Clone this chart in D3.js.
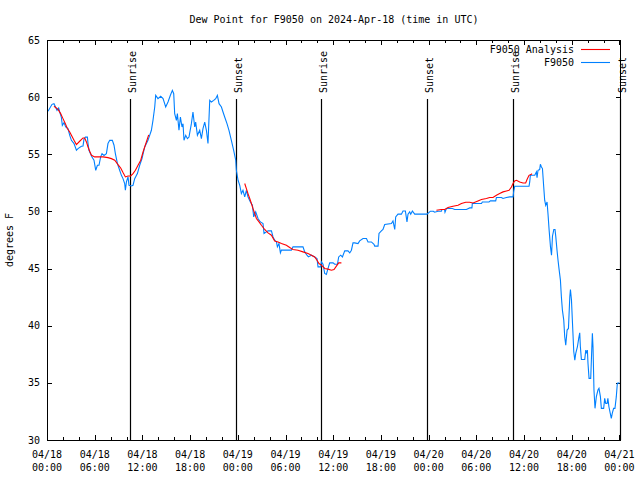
<!DOCTYPE html>
<html>
<head>
<meta charset="utf-8">
<script src="https://cdn.jsdelivr.net/npm/d3@7"></script>
<style>
  html, body { margin: 0; padding: 0; background: #fff; }
  svg { display: block; }
  text { font-family: "DejaVu Sans Mono", monospace; font-size: 10px; fill: #000; }
</style>
</head>
<body>
<svg id="chart" width="640" height="480"></svg>
<script>
// ---------------- DATA ----------------
const chartTitle = "Dew Point for F9050 on 2024-Apr-18 (time in UTC)";
const yLabel = "degrees F";
const startTime = Date.UTC(2024, 3, 18, 0, 0);   // 04/18 00:00 UTC
const spanHours = 72.2;

const yTicks = [30, 35, 40, 45, 50, 55, 60, 65];
const xMajorHours = [0, 6, 12, 18, 24, 30, 36, 42, 48, 54, 60, 66, 72];

const sunEventLabels = ["Sunrise", "Sunset", "Sunrise", "Sunset", "Sunrise", "Sunset"];
const sunEventHours = [10.42, 23.77, 34.47, 47.8, 58.67, 72.02];

const seriesNames = ["F9050 Analysis", "F9050"];
const seriesColors = ["#ff0000", "#0080ff"];

// F9050 observations (hours since 04/18 00:00 UTC, deg F)
const f9050Hours = [0.13,0.63,0.88,1.1,1.26,1.47,1.6,1.8,1.93,2.14,2.35,2.64,2.86,3.07,3.4,3.7,3.9,4.33,4.53,4.65,4.83,5.08,5.16,5.28,5.46,5.66,5.91,6.13,6.34,6.54,6.75,6.92,7.17,7.47,7.67,7.89,8.22,8.43,8.6,8.86,9.14,9.36,9.56,9.77,9.86,9.99,10.19,10.31,10.62,10.82,11.03,11.37,11.66,11.95,12.29,12.7,13.13,13.33,13.55,13.67,13.96,14.3,14.6,14.93,15.22,15.52,15.77,15.94,16.06,16.28,16.4,16.6,16.78,16.98,17.11,17.23,17.45,17.66,17.86,18.16,18.36,18.58,18.7,18.92,19.21,19.42,19.62,19.84,20.05,20.25,20.47,20.68,20.97,21.22,21.43,21.64,21.94,22.14,22.35,22.64,22.89,23.19,23.48,23.74,23.82,24.03,24.24,24.45,24.65,24.87,25.08,25.28,25.58,25.84,26.0,26.25,26.54,26.84,27.17,27.3,27.6,27.8,28.23,28.43,28.64,28.86,28.98,29.18,29.36,29.49,30.74,30.94,32.2,32.42,32.7,32.88,33.25,33.67,33.96,34.09,34.43,34.51,34.72,34.93,35.14,35.35,35.56,35.98,36.19,36.53,36.69,36.94,37.16,37.45,37.86,38.08,38.29,38.49,38.7,39.12,39.33,39.75,40.18,40.38,40.8,41.13,41.22,41.64,41.76,42.06,42.26,42.48,43.32,43.52,43.74,43.86,44.15,44.58,44.78,45.08,45.28,45.41,45.62,45.75,45.96,46.25,47.8,48.23,48.6,48.76,49.18,49.6,49.69,50.0,50.06,50.24,51.0,51.28,52.75,53.17,53.45,53.5,54.65,54.76,55.6,55.77,56.44,56.53,57.16,57.36,57.79,58.2,58.62,58.71,58.83,60.63,60.72,60.8,61.35,61.56,61.64,61.76,61.97,62.06,62.19,62.32,62.48,62.6,62.73,62.9,63.03,63.16,63.33,63.46,63.58,63.75,63.9,64.0,64.15,64.28,64.4,64.58,64.7,64.83,65.0,65.12,65.25,65.42,65.59,65.76,65.84,65.97,66.1,66.26,66.39,66.51,66.72,66.88,67.01,67.09,67.22,67.64,67.77,67.85,67.97,68.05,68.18,68.39,68.52,68.6,68.68,68.8,68.93,69.1,69.3,69.43,69.61,69.73,70.02,70.15,70.28,70.45,70.55,70.68,70.85,70.98,71.1,71.27,71.44,71.61,71.74,72.0];
const f9050Values = [58.76,59.37,59.43,59.1,58.85,59.05,58.7,58.26,57.53,57.77,57.4,57.25,56.66,56.22,55.94,55.35,55.5,55.7,55.73,56.31,56.5,56.5,55.94,55.35,55.06,54.77,54.48,53.6,54.04,54.04,54.77,55.06,54.9,55.06,55.94,56.22,56.22,55.79,55.06,54.19,53.6,53.16,52.87,52.44,51.85,52.58,53.02,52.29,52.23,52.29,52.87,53.31,54.04,54.62,55.64,56.22,57.1,57.97,59.14,60.16,59.87,60.07,59.87,59.14,59.57,60.16,60.59,60.3,58.56,57.97,58.56,57.1,58.26,57.39,57.68,56.22,56.66,56.37,56.51,57.68,58.7,57.39,57.82,56.66,57.1,56.37,57.25,57.82,57.1,55.94,59.72,59.57,59.72,59.87,60.16,59.43,59.14,58.7,58.26,57.68,57.1,56.22,55.35,54.48,53.6,52.73,52.29,51.56,51.85,51.27,51.85,51.27,50.83,50.54,49.52,49.96,49.38,49.08,48.94,48.07,48.21,48.3,48.3,47.77,47.48,47.33,46.9,47.19,46.37,46.61,46.61,46.9,46.9,46.46,46.17,46.02,46.17,46.02,45.88,45.15,45.15,45.59,45.38,44.57,44.48,45.01,45.5,45.5,45.38,45.38,46.02,46.17,46.02,46.55,46.55,46.37,46.61,47.25,47.25,47.19,47.42,47.63,47.63,47.33,47.33,47.13,46.96,46.96,48.07,48.3,48.42,48.86,48.94,49.17,48.42,49.52,49.76,49.76,50.04,50.04,49.08,49.76,49.96,49.76,50.04,49.76,49.76,50.02,50.02,49.93,50.02,50.02,50.17,50.17,49.93,50.25,50.25,50.17,50.17,50.31,50.31,50.69,50.69,50.83,50.83,50.92,50.92,51.22,51.22,51.13,51.22,51.27,51.27,51.79,52.2,52.2,52.58,53.16,53.16,53.45,52.96,53.6,53.66,54.13,53.89,53.75,52.14,50.98,50.54,50.83,49.67,48.36,46.9,46.17,47.83,48.42,48.42,47.77,46.61,45.73,45.0,43.99,42.53,41.36,40.49,39.03,38.3,39.62,39.76,42.53,43.17,42.24,40.2,37.72,36.99,37.58,38.16,38.89,39.38,38.16,37.05,37.05,37.87,37.58,37.87,36.7,35.39,35.39,37.87,39.33,38.16,34.37,32.77,33.79,34.37,34.52,33.79,32.77,32.77,33.64,33.2,33.2,33.64,32.91,32.33,31.9,32.33,32.77,32.77,33.79,34.96,35.0];

// F9050 Analysis (null = gap between analysis periods)
const analysisHours = [0.88,1.39,1.72,2.01,2.31,2.56,2.86,3.07,3.4,3.7,4.11,4.53,4.74,4.96,5.16,5.37,5.59,6.0,7.05,7.67,8.1,8.52,8.93,9.27,9.56,9.86,10.19,10.53,10.82,11.12,11.45,11.79,12.08,12.29,12.79,
  null,
  24.87,25.08,25.28,25.5,25.71,25.91,26.13,26.34,26.67,26.97,27.38,27.8,28.23,28.64,29.06,29.49,30.11,30.53,30.94,31.57,32.2,32.83,33.26,33.67,33.96,34.21,34.51,34.93,35.35,35.77,36.1,36.4,36.69,37.03,
  null,
  48.98,49.6,50.03,50.44,51.07,51.7,52.13,52.67,53.17,53.59,54.21,54.64,55.27,55.68,56.1,56.53,56.94,57.36,57.79,58.12,58.42,58.62,58.83,59.05,59.46,59.87,60.21,60.38,60.63,60.93,61.0];
const analysisValues = [59.2,58.93,58.56,58.12,57.68,57.25,56.95,56.66,56.22,55.85,56.14,56.43,56.43,56.08,55.64,55.26,54.91,54.77,54.77,54.71,54.62,54.48,54.1,53.8,53.4,53.02,53.1,53.1,53.31,53.6,54.04,54.48,55.2,55.64,56.7,
  null,
  52.44,52.0,51.56,51.13,50.69,50.25,49.82,49.38,49.08,48.79,48.42,48.12,47.92,47.42,47.33,47.19,47.04,46.84,46.67,46.61,46.46,46.32,46.17,46.02,45.73,45.44,45.3,45.01,44.95,44.86,44.92,45.21,45.5,45.5,
  null,
  50.1,50.17,50.17,50.34,50.45,50.54,50.69,50.8,50.8,50.74,50.92,51.04,51.13,51.22,51.22,51.42,51.56,51.71,51.79,51.85,52.14,52.44,52.67,52.73,52.58,52.49,52.49,52.79,53.16,53.25,53.3];

// ---------------- CHART ----------------
(function () {
const H = 3600 * 1000;
const toDate = h => new Date(startTime + h * H);
const pLeft = 47, pRight = 621, pTop = 40, pBottom = 440;

const svg = d3.select("#chart");
svg.append("rect").attr("width", 640).attr("height", 480).attr("fill", "#fff");

const x = d3.scaleUtc().domain([toDate(0), toDate(spanHours)]).range([pLeft, pRight]);
const y = d3.scaleLinear().domain([30, 65]).range([pBottom, pTop]);

// Title
svg.append("text").attr("x", (pLeft + pRight) / 2).attr("y", 23)
  .attr("text-anchor", "middle").text(chartTitle);

// Y label
svg.append("text").attr("transform", `translate(13,${(pTop + pBottom) / 2}) rotate(-90)`)
  .attr("text-anchor", "middle").text(yLabel);

// Axes (ticks inward, mirrored)
const xMinor = d3.range(0, 73, 2).map(toDate);
const xMajor = xMajorHours.map(toDate);
const fmtDate = d3.utcFormat("%m/%d"), fmtTime = d3.utcFormat("%H:%M");

const axisG = svg.append("g").attr("stroke", "#000").attr("stroke-width", 1).attr("shape-rendering", "crispEdges");
xMinor.forEach(d => {
  const major = xMajorHours.includes(Math.round((d - startTime) / H));
  const len = major ? 5 : 3;
  const px = Math.round(x(d)) + 0.5;
  axisG.append("line").attr("x1", px).attr("x2", px).attr("y1", pBottom).attr("y2", pBottom - len);
  axisG.append("line").attr("x1", px).attr("x2", px).attr("y1", pTop).attr("y2", pTop + len);
});
yTicks.forEach(v => {
  const py = Math.round(y(v)) + 0.5;
  axisG.append("line").attr("x1", pLeft).attr("x2", pLeft + 5).attr("y1", py).attr("y2", py);
  axisG.append("line").attr("x1", pRight).attr("x2", pRight - 5).attr("y1", py).attr("y2", py);
});

// Tick labels
const xl = svg.append("g").attr("text-anchor", "middle");
xMajor.forEach(d => {
  const px = x(d);
  xl.append("text").attr("x", px).attr("y", 458).text(fmtDate(d));
  xl.append("text").attr("x", px).attr("y", 471).text(fmtTime(d));
});
const yl = svg.append("g").attr("text-anchor", "end");
yTicks.forEach(v => {
  yl.append("text").attr("x", 40).attr("y", y(v) + 3.5).text(v);
});

// Sunrise / Sunset lines
const sunG = svg.append("g");
sunEventHours.forEach((h, i) => {
  const px = Math.round(x(toDate(h))) + 0.5;
  sunG.append("line").attr("x1", px).attr("x2", px).attr("y1", 99).attr("y2", pBottom)
    .attr("stroke", "#000").attr("stroke-width", 1.2);
  sunG.append("text").attr("transform", `translate(${px + 5.5},93) rotate(-90)`)
    .attr("text-anchor", "start").text(sunEventLabels[i]);
});

// Series
const line = d3.line()
  .defined(d => d[0] != null && d[1] != null)
  .x(d => x(toDate(d[0])))
  .y(d => y(d[1]));

const obs = f9050Hours.map((h, i) => [h, f9050Values[i]]);
const ana = analysisHours.map((h, i) => [h, analysisValues[i]]);

svg.append("path").datum(obs).attr("d", line).attr("fill", "none")
  .attr("stroke", seriesColors[1]).attr("stroke-width", 1.1).attr("stroke-linejoin", "miter");
svg.append("path").datum(ana).attr("d", line).attr("fill", "none")
  .attr("stroke", seriesColors[0]).attr("stroke-width", 1.1);

// Frame
svg.append("rect").attr("x", pLeft + 0.5).attr("y", pTop + 0.5)
  .attr("width", pRight - pLeft - 1).attr("height", pBottom - pTop)
  .attr("fill", "none").attr("stroke", "#000").attr("stroke-width", 1)
  .attr("shape-rendering", "crispEdges");

// Legend
const legY = [49.5, 62.5];
seriesNames.forEach((name, i) => {
  svg.append("text").attr("x", 574).attr("y", legY[i] + 3.5).attr("text-anchor", "end").text(name);
  svg.append("line").attr("x1", 581).attr("x2", 610).attr("y1", legY[i]).attr("y2", legY[i])
    .attr("stroke", seriesColors[i]).attr("stroke-width", 1.1);
});
})();
</script>
</body>
</html>
